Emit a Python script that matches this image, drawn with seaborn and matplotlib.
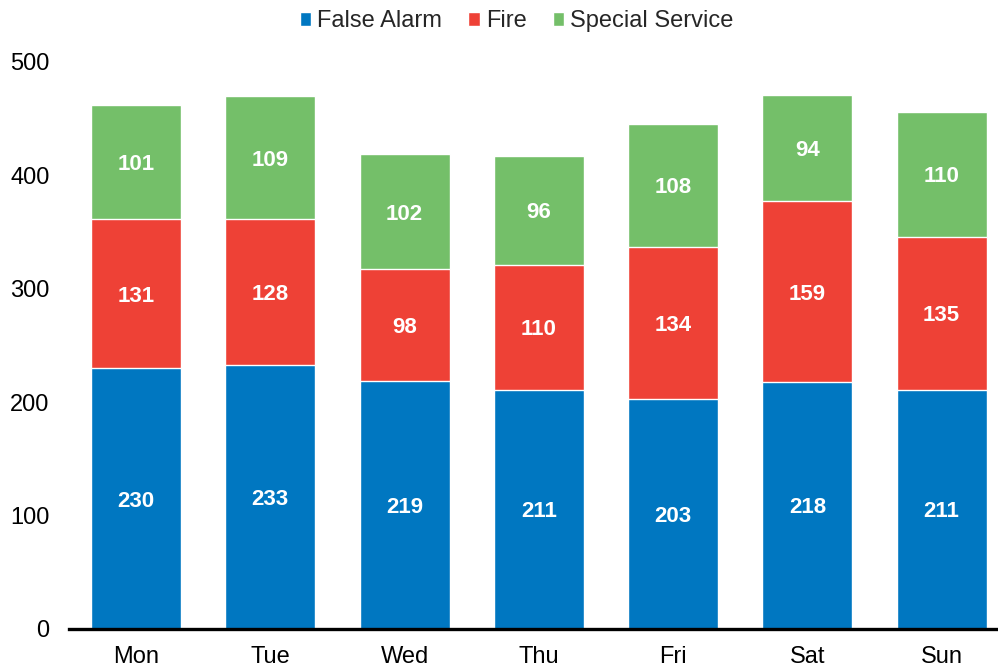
import numpy as np
import matplotlib.pyplot as plt
import seaborn as sns

days = ["Mon", "Tue", "Wed", "Thu", "Fri", "Sat", "Sun"]
false_alarm = [230, 233, 219, 211, 203, 218, 211]
fire = [131, 128, 98, 110, 134, 159, 135]
special = [101, 109, 102, 96, 108, 94, 110]

series = ["False Alarm", "Fire", "Special Service"]
colors = ["#0077C1", "#EE4136", "#74BF69"]

sns.set_style("white")
plt.rcParams["font.family"] = ["Liberation Sans", "DejaVu Sans"]

fig = plt.figure(figsize=(9.98, 6.72), dpi=100)
ax = fig.add_axes([0.069, 0.064, 0.931, 0.844])

# stacked totals, drawn from the top segment down
fa = np.array(false_alarm)
fi = np.array(fire)
sp = np.array(special)
tops = [fa, fa + fi, fa + fi + sp]
for vals, col, name in reversed(list(zip(tops, colors, series))):
    sns.barplot(x=days, y=vals, color=col, width=0.67, saturation=1,
                label=name, ax=ax)

# labels in the middle of each segment
bottoms = [np.zeros(7), fa, fa + fi]
for seg, bot in zip([fa, fi, sp], bottoms):
    for i, v in enumerate(seg):
        ax.text(i, bot[i] + v / 2, str(v), ha="center", va="center_baseline",
                color="white", fontsize=16, fontweight="bold")

ax.set_ylim(0, 500)
ax.set_xlim(-0.5, 6.42)
ax.set_yticks([0, 100, 200, 300, 400, 500])
ax.tick_params(axis="both", length=0, labelsize=17, colors="black")
ax.tick_params(axis="y", pad=14)
ax.tick_params(axis="x", pad=12)
sns.despine(ax=ax, left=True)
ax.spines["bottom"].set_linewidth(2.4)
ax.spines["bottom"].set_color("black")
ax.set_xlabel("")
ax.set_ylabel("")

handles, labels = ax.get_legend_handles_labels()
order = [labels.index(s) for s in series]
ax.legend([handles[i] for i in order], [labels[i] for i in order],
          loc="upper center", bbox_to_anchor=(0.482, 1.12), ncol=3,
          frameon=False, fontsize=17, handlelength=0.5, handleheight=0.5,
          handletextpad=0.25, columnspacing=1.1, borderpad=0.2)

fig.savefig("out.png", dpi=100)
